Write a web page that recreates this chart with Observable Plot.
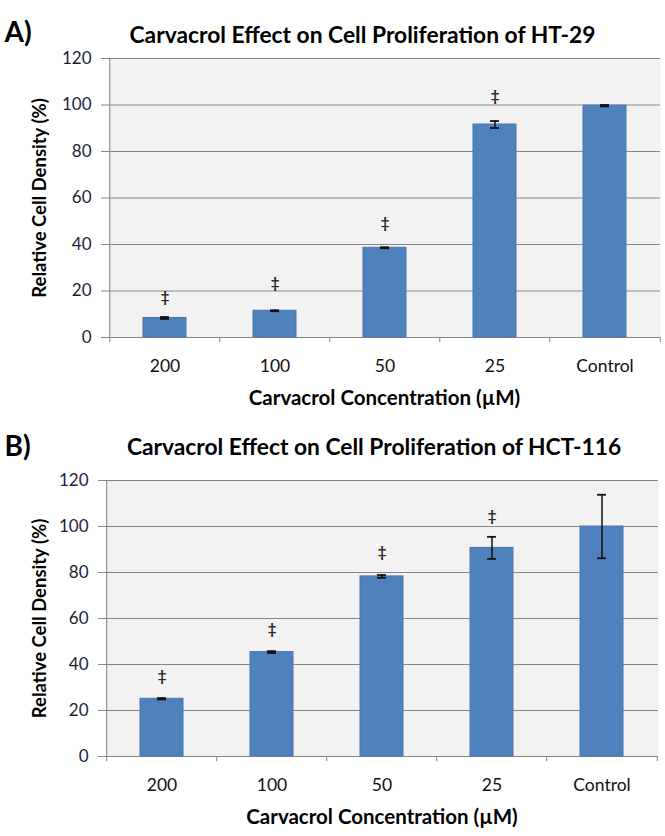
<!DOCTYPE html>
<html>
<head>
<meta charset="utf-8">
<script src="https://cdn.jsdelivr.net/npm/d3@7"></script>
<script src="https://cdn.jsdelivr.net/npm/@observablehq/plot@0.6"></script>
<style>
  html, body { margin: 0; padding: 0; background: white; }
  svg { display: block; }
</style>
</head>
<body>
<div id="chart"></div>
<script>
const categories = ["200", "100", "50", "25", "Control"];
const yTicks = [0, 20, 40, 60, 80, 100, 120];

const htValues = [8.4, 11.5, 38.6, 91.6, 99.7];
const htErrors = [0.4, 0.2, 0.2, 1.5, 0.3];
const htSig = [17.2, 23.3, 49, 103.6, null];

const hctValues = [25.1, 45.4, 78.3, 90.7, 100];
const hctErrors = [0.3, 0.4, 0.6, 4.8, 13.8];
const hctSig = [35.1, 55.4, 89, 104.3, null];

const panelLabels = ["A)", "B)"];
const titles = [
  "Carvacrol Effect on Cell Proliferation of HT-29",
  "Carvacrol Effect on Cell Proliferation of HCT-116"
];
const yLabel = "Relative Cell Density (%)";
const xLabel = "Carvacrol Concentration (µM)";

const FONT = "Lato, 'Open Sans', sans-serif";
const GRID = "#868686";

function panel({values, errors, sig, label, title, mt, mb, ml, mr, titleDx, titleDy, labelDy}) {
  const W = 665, H = 418;
  const data = categories.map((c, i) => ({c, v: values[i], e: errors[i], s: sig[i]}));
  const step = (W - ml - mr) / categories.length;
  const capInset = (step * 0.39 - 9) / 2;
  return Plot.plot({
    width: W, height: H,
    marginTop: mt, marginBottom: mb, marginLeft: ml, marginRight: mr,
    style: {fontFamily: FONT, background: "white"},
    x: {type: "band", domain: categories, paddingInner: 0.61, paddingOuter: 0.305, label: null},
    y: {domain: [0, 120], label: null},
    marks: [
      Plot.frame({fill: "#f2f2f2", stroke: null}),
      Plot.gridY(yTicks, {stroke: GRID, strokeOpacity: 1}),
      Plot.axisY({ticks: yTicks, tickSize: 7, tickPadding: 10, fontSize: 17, fill: "#1e1e3a", stroke: GRID, label: null}),
      Plot.axisX({tickSize: 0, tickPadding: 22, fontSize: 17.5, fill: "#111", label: null}),
      // left axis line
      Plot.ruleX([categories[0]], {dx: -step / 2, y1: 0, y2: 120, stroke: GRID}),
      // category boundary ticks
      Plot.ruleX(categories, {dx: -step / 2, y1: -2.3, y2: 0, stroke: GRID}),
      Plot.ruleX([categories[categories.length - 1]], {dx: step / 2, y1: -2.3, y2: 0, stroke: GRID}),
      Plot.barY(data, {x: "c", y: "v", fill: "#4f81bd", stroke: "#4676b0", strokeWidth: 1}),
      Plot.ruleX(data, {x: "c", y1: d => d.v - d.e, y2: d => d.v + d.e, stroke: "#111", strokeWidth: 1.5}),
      Plot.tickY(data, {x: "c", y: d => d.v - d.e, stroke: "#111", strokeWidth: 1.8, insetLeft: capInset, insetRight: capInset}),
      Plot.tickY(data, {x: "c", y: d => d.v + d.e, stroke: "#111", strokeWidth: 1.8, insetLeft: capInset, insetRight: capInset}),
      Plot.text(data.filter(d => d.s != null), {x: "c", y: "s", text: () => "‡", fontSize: 15, fontWeight: "bold", fill: "#2e2222"}),
      // titles and axis labels
      Plot.text([label], {frameAnchor: "top-left", dx: -ml + 4, dy: -mt + labelDy, textAnchor: "start", fontSize: 28, fontWeight: "bold", fill: "#000"}),
      Plot.text([title], {frameAnchor: "top", dx: titleDx, dy: titleDy, fontSize: 22.8, fontWeight: "bold", fill: "#000"}),
      Plot.text([yLabel], {frameAnchor: "left", textAnchor: "middle", dx: -ml + 40, rotate: -90, fontSize: 18.5, fontWeight: "bold", fill: "#000"}),
      Plot.text([xLabel], {frameAnchor: "bottom", dy: 67, fontSize: 20.5, fontWeight: "bold", fill: "#000"})
    ]
  });
}

const root = document.getElementById("chart");
root.appendChild(panel({values: htValues, errors: htErrors, sig: htSig, label: panelLabels[0], title: titles[0],
  mt: 58, mb: 81, ml: 108, mr: 5, titleDx: -22, titleDy: -32, labelDy: 22}));
root.appendChild(panel({values: hctValues, errors: hctErrors, sig: hctSig, label: panelLabels[1], title: titles[1],
  mt: 62, mb: 80, ml: 105, mr: 7, titleDx: -8, titleDy: -42, labelDy: 18}));
</script>
</body>
</html>
